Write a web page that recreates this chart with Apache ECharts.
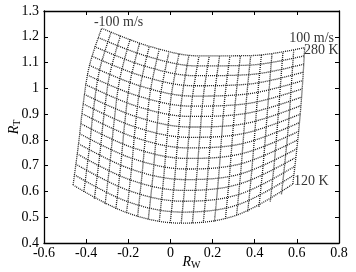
<!DOCTYPE html>
<html>
<head>
<meta charset="utf-8">
<script src="https://cdn.jsdelivr.net/npm/echarts@6/dist/echarts.min.js"></script>
<style>
  html, body { margin: 0; padding: 0; background: #fff; }
  #chart { width: 356px; height: 272px; }
</style>
</head>
<body>
<div id="chart"></div>
<script>
/*
 * carpet of R_W / R_T: one line per temperature, one line per wind speed
 */
const temps = [120, 130, 140, 150, 160, 170, 180, 190, 200, 210, 220, 230, 240, 250, 260, 270, 280];
const winds = [-100, -90, -80, -70, -60, -50, -40, -30, -20, -10, 0, 10, 20, 30, 40, 50, 60, 70, 80, 90, 100];

// points, at wind = -100, -50, 0, 50, 100 m/s
const rwAlongTemp = [
    [-0.462, -0.208, 0.051, 0.314, 0.581],
    [-0.456, -0.202, 0.056, 0.319, 0.585],
    [-0.449, -0.196, 0.061, 0.324, 0.591],
    [-0.443, -0.191, 0.066, 0.328, 0.595],
    [-0.436, -0.185, 0.071, 0.333, 0.600],
    [-0.430, -0.181, 0.076, 0.337, 0.604],
    [-0.425, -0.176, 0.079, 0.341, 0.608],
    [-0.419, -0.171, 0.084, 0.344, 0.612],
    [-0.414, -0.167, 0.087, 0.348, 0.616],
    [-0.409, -0.162, 0.091, 0.352, 0.619],
    [-0.403, -0.158, 0.095, 0.354, 0.622],
    [-0.395, -0.152, 0.099, 0.358, 0.625],
    [-0.384, -0.143, 0.105, 0.363, 0.628],
    [-0.373, -0.135, 0.112, 0.367, 0.630],
    [-0.360, -0.125, 0.118, 0.371, 0.632],
    [-0.343, -0.113, 0.127, 0.376, 0.634],
    [-0.326, -0.100, 0.136, 0.381, 0.637]
];
const rtAlongTemp = [
    [0.625, 0.518, 0.477, 0.508, 0.629],
    [0.665, 0.560, 0.520, 0.548, 0.663],
    [0.706, 0.603, 0.562, 0.588, 0.698],
    [0.746, 0.645, 0.604, 0.629, 0.732],
    [0.785, 0.686, 0.646, 0.668, 0.766],
    [0.824, 0.728, 0.687, 0.708, 0.800],
    [0.863, 0.769, 0.728, 0.747, 0.833],
    [0.902, 0.810, 0.769, 0.786, 0.867],
    [0.940, 0.850, 0.810, 0.825, 0.900],
    [0.977, 0.890, 0.850, 0.863, 0.933],
    [1.015, 0.930, 0.891, 0.902, 0.966],
    [1.052, 0.970, 0.931, 0.940, 0.998],
    [1.089, 1.009, 0.970, 0.978, 1.030],
    [1.125, 1.048, 1.010, 1.016, 1.063],
    [1.162, 1.087, 1.049, 1.053, 1.094],
    [1.197, 1.125, 1.087, 1.090, 1.126],
    [1.233, 1.163, 1.126, 1.127, 1.158]
];

// points, at T = 120, 160, 200, 240, 280 K
const rwAlongWind = [
    [-0.462, -0.436, -0.414, -0.384, -0.326],
    [-0.411, -0.386, -0.365, -0.336, -0.281],
    [-0.361, -0.336, -0.315, -0.288, -0.237],
    [-0.310, -0.286, -0.266, -0.240, -0.191],
    [-0.259, -0.236, -0.217, -0.192, -0.146],
    [-0.208, -0.185, -0.167, -0.143, -0.100],
    [-0.156, -0.134, -0.116, -0.094, -0.053],
    [-0.105, -0.083, -0.066, -0.045, -0.007],
    [-0.053, -0.032, -0.015, 0.005, 0.041],
    [-0.001, 0.020, 0.036, 0.056, 0.088],
    [0.051, 0.071, 0.087, 0.105, 0.136],
    [0.104, 0.123, 0.139, 0.156, 0.184],
    [0.156, 0.175, 0.191, 0.208, 0.233],
    [0.209, 0.228, 0.243, 0.259, 0.282],
    [0.261, 0.280, 0.295, 0.311, 0.332],
    [0.314, 0.333, 0.348, 0.363, 0.381],
    [0.367, 0.386, 0.401, 0.415, 0.432],
    [0.420, 0.439, 0.454, 0.468, 0.482],
    [0.474, 0.493, 0.508, 0.521, 0.534],
    [0.527, 0.546, 0.562, 0.574, 0.585],
    [0.581, 0.600, 0.616, 0.628, 0.637]
];
const rtAlongWind = [
    [0.625, 0.785, 0.940, 1.089, 1.233],
    [0.598, 0.760, 0.919, 1.072, 1.219],
    [0.572, 0.738, 0.899, 1.054, 1.205],
    [0.551, 0.718, 0.881, 1.038, 1.191],
    [0.532, 0.701, 0.864, 1.023, 1.176],
    [0.518, 0.686, 0.850, 1.009, 1.163],
    [0.503, 0.672, 0.836, 0.996, 1.151],
    [0.492, 0.661, 0.825, 0.985, 1.140],
    [0.483, 0.653, 0.817, 0.978, 1.134],
    [0.479, 0.648, 0.812, 0.973, 1.129],
    [0.477, 0.646, 0.810, 0.970, 1.126],
    [0.477, 0.645, 0.809, 0.968, 1.124],
    [0.479, 0.646, 0.809, 0.968, 1.124],
    [0.484, 0.650, 0.812, 0.970, 1.124],
    [0.494, 0.658, 0.817, 0.973, 1.125],
    [0.508, 0.668, 0.825, 0.978, 1.127],
    [0.522, 0.680, 0.833, 0.984, 1.130],
    [0.540, 0.694, 0.845, 0.991, 1.135],
    [0.561, 0.711, 0.857, 1.001, 1.140],
    [0.589, 0.734, 0.876, 1.014, 1.148],
    [0.629, 0.766, 0.900, 1.030, 1.158]
];

// text labels on the carpet
const notes = [
    { text: '-100 m/s', at: [-0.246, 1.257] },
    { text: '100 m/s', at: [0.670, 1.195] },
    { text: '280 K', at: [0.716, 1.149] },
    { text: '120 K', at: [0.668, 0.639] }
];

const SERIF = 'Liberation Serif';
const INK = '#000';

var lineStyle = { type: [1, 1], width: 1.3, color: '#1a1a1a' };

function gridLine(name, rw, rt) {
    return {
        type: 'line',
        name: name,
        data: rw.map((x, i) => [x, rt[i]]),
        smooth: 0.35,
        showSymbol: false,
        silent: true,
        lineStyle: lineStyle
    };
}

var series = [];
temps.forEach((t, i) => series.push(gridLine(t + ' K', rwAlongTemp[i], rtAlongTemp[i])));
winds.forEach((w, i) => series.push(gridLine(w + ' m/s', rwAlongWind[i], rtAlongWind[i])));

series.push({
    type: 'scatter',
    symbolSize: 0,
    silent: true,
    data: notes.map(n => ({ name: n.text, value: n.at })),
    label: {
        show: true,
        position: 'inside',
        formatter: '{b}',
        color: INK,
        fontFamily: SERIF,
        fontSize: 14
    }
});

var axisCommon = {
    type: 'value',
    axisLine: { onZero: false, lineStyle: { color: INK, width: 1.3 } },
    axisTick: { inside: true, length: 4, lineStyle: { color: INK } },
    splitLine: { show: false }
};

var nameRich = {
    i: { fontFamily: SERIF, fontStyle: 'italic', fontSize: 14, color: INK },
    s: { fontFamily: SERIF, fontSize: 10, color: INK, padding: [5, 0, 0, 0] }
};

var option = {
    animation: false,
    backgroundColor: '#fff',
    grid: { left: 44, right: 17, top: 11, bottom: 29, containLabel: false, outerBoundsMode: 'none' },
    xAxis: [
        Object.assign({}, axisCommon, {
            min: -0.6, max: 0.8, interval: 0.2,
            axisLabel: { color: INK, fontFamily: SERIF, fontSize: 14, margin: 3 },
            name: '{i|R}{s|W}',
            nameLocation: 'middle',
            nameGap: 12,
            nameMoveOverlap: false,
            nameTextStyle: { rich: nameRich }
        }),
        Object.assign({}, axisCommon, {
            position: 'top',
            min: -0.6, max: 0.8, interval: 0.2,
            axisLabel: { show: false }
        })
    ],
    yAxis: [
        Object.assign({}, axisCommon, {
            min: 0.4, max: 1.3, interval: 0.1,
            axisLabel: { color: INK, fontFamily: SERIF, fontSize: 14, margin: 5 },
            name: '{i|R}{s|T}',
            nameLocation: 'middle',
            nameGap: 22,
            nameMoveOverlap: false,
            nameTextStyle: { rich: nameRich }
        }),
        Object.assign({}, axisCommon, {
            position: 'right',
            min: 0.4, max: 1.3, interval: 0.1,
            axisLabel: { show: false }
        })
    ],
    series: series
};

var chart = echarts.init(document.getElementById('chart'));
chart.setOption(option);
</script>
</body>
</html>
